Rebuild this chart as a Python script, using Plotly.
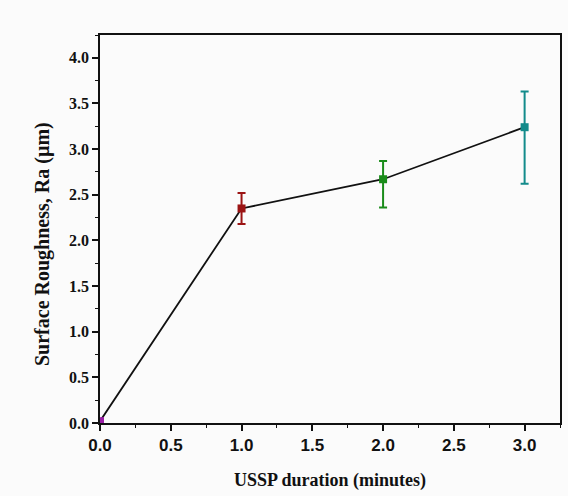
import plotly.graph_objects as go

durations = [0.0, 1.0, 2.0, 3.0]
roughness = [0.02, 2.35, 2.67, 3.24]
err_plus = [0.0, 0.17, 0.20, 0.39]
err_minus = [0.0, 0.17, 0.31, 0.62]
colors = ["#9b1fa8", "#9b1414", "#1a8c1a", "#138b8b"]
x_ticks = [0, 0.5, 1, 1.5, 2, 2.5, 3]
x_labels = ["0.0", "0.5", "1.0", "1.5", "2.0", "2.5", "3.0"]
y_ticks = [0, 0.5, 1, 1.5, 2, 2.5, 3, 3.5, 4]
y_labels = ["0.0", "0.5", "1.0", "1.5", "2.0", "2.5", "3.0", "3.5", "4.0"]

fig = go.Figure()
fig.add_trace(go.Scatter(x=durations, y=roughness, mode="lines",
                         line=dict(color="#111111", width=1.8),
                         showlegend=False, hoverinfo="skip"))
for i in range(len(durations)):
    fig.add_trace(go.Scatter(
        x=[durations[i]], y=[roughness[i]], mode="markers",
        marker=dict(symbol="square", size=8, color=colors[i]),
        error_y=dict(type="data", symmetric=False,
                     array=[err_plus[i]], arrayminus=[err_minus[i]],
                     color=colors[i], thickness=2, width=4,
                     visible=err_plus[i] > 0),
        showlegend=False))

ink = "#111111"
fig.update_layout(
    width=568, height=496,
    margin=dict(l=100, r=6, t=35, b=73),
    paper_bgcolor="#fbfbfb", plot_bgcolor="#fbfbfb",
    font=dict(family="Liberation Serif", color=ink),
    xaxis=dict(range=[0, 3.25], tickvals=x_ticks, ticktext=x_labels,
               ticks="outside", ticklen=6, tickwidth=1.5, tickcolor=ink,
               minor=dict(tickvals=[0.25, 0.75, 1.25, 1.75, 2.25, 2.75, 3.25],
                          ticks="outside", ticklen=3, tickwidth=1.2, tickcolor=ink),
               showline=True, linecolor=ink, linewidth=1.8, mirror=True,
               showgrid=False, zeroline=False,
               tickfont=dict(family="Liberation Sans", size=17, color=ink, weight="bold")),
    yaxis=dict(range=[0, 4.25], tickvals=y_ticks, ticktext=y_labels,
               ticks="outside", ticklen=6, tickwidth=1.5, tickcolor=ink,
               minor=dict(tickvals=[0.25, 0.75, 1.25, 1.75, 2.25, 2.75, 3.25, 3.75, 4.25],
                          ticks="outside", ticklen=3, tickwidth=1.2, tickcolor=ink),
               showline=True, linecolor=ink, linewidth=1.8, mirror=True,
               showgrid=False, zeroline=False,
               tickfont=dict(family="Liberation Serif", size=16, color=ink, weight="bold")),
    annotations=[
        dict(text="<b>USSP duration (minutes)</b>", xref="paper", yref="paper",
             x=0.5, y=0, yshift=-57, xanchor="center", yanchor="middle",
             showarrow=False, font=dict(family="Liberation Serif", size=18, color=ink)),
        dict(text="<b>Surface Roughness, Ra (µm)</b>", xref="paper", yref="paper",
             x=0, xshift=-58, y=0.5, yshift=-15, xanchor="center", yanchor="middle",
             textangle=-90, showarrow=False,
             font=dict(family="Liberation Serif", size=20, color=ink)),
    ],
)
fig.write_html("out.html")
